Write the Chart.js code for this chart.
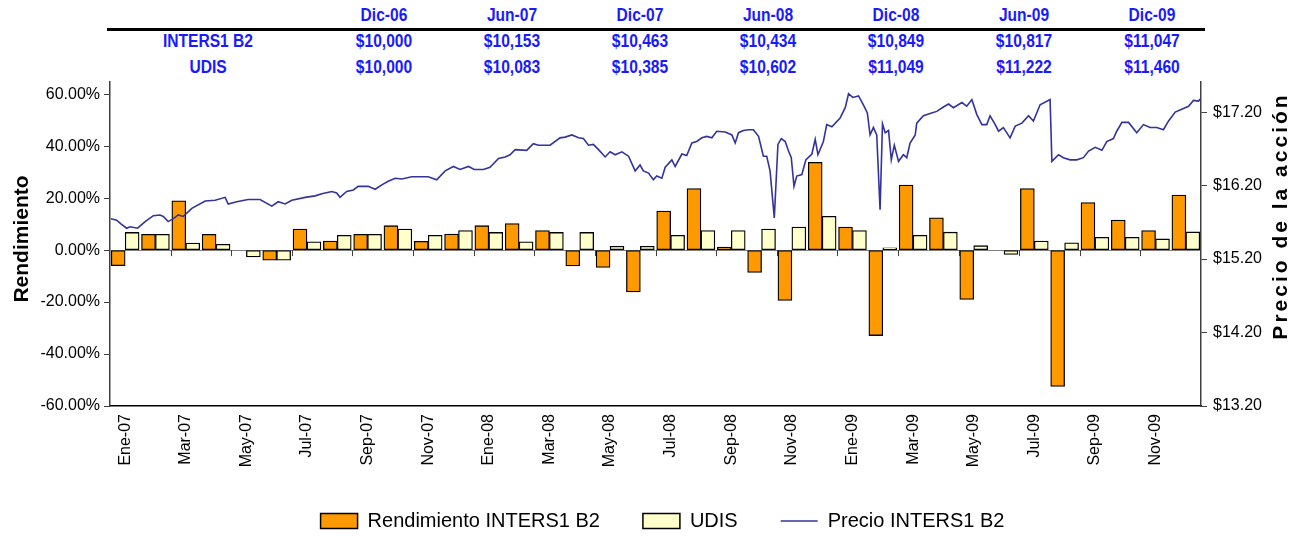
<!DOCTYPE html>
<html>
<head>
<meta charset="utf-8">
<script src="https://cdn.jsdelivr.net/npm/chart.js@4/dist/chart.umd.min.js"></script>
<style>
    body { margin: 0; width: 1301px; height: 537px; overflow: hidden; background: #fff; }
    #wrap { position: absolute; left: 0; top: 0; width: 1301px; height: 541px; }
    .cell { position: absolute; transform: translate(-50%, -50%) scaleX(0.82); white-space: nowrap;
            font: bold 19px 'Liberation Sans', Arial, sans-serif; color: #1a1aff; }
    #rule { position: absolute; left: 107px; top: 28px; width: 1098px; height: 3px; background: #000; }
</style>
</head>
<body>
<div id="table"></div>
<div id="rule"></div>
<div id="wrap"><canvas id="chart" width="1301" height="541"></canvas></div>
<script>
const months = ['Ene-07', 'Feb-07', 'Mar-07', 'Abr-07', 'May-07', 'Jun-07', 'Jul-07', 'Ago-07', 'Sep-07', 'Oct-07', 'Nov-07', 'Dic-07',
    'Ene-08', 'Feb-08', 'Mar-08', 'Abr-08', 'May-08', 'Jun-08', 'Jul-08', 'Ago-08', 'Sep-08', 'Oct-08', 'Nov-08', 'Dic-08',
    'Ene-09', 'Feb-09', 'Mar-09', 'Abr-09', 'May-09', 'Jun-09', 'Jul-09', 'Ago-09', 'Sep-09', 'Oct-09', 'Nov-09', 'Dic-09'];

// rendimientos mensuales (%)
const rendInters = [-6.0, 6.1, 19.0, 6.1, 0, -3.9, 8.1, 3.5, 6.1, 9.4, 3.4, 6.2,
    9.4, 10.2, 7.5, -6.1, -6.7, -16.1, 15.0, 23.7, 1.2, -8.6, -19.4, 33.8,
    8.9, -32.9, 25.0, 12.4, -19.0, 0, 23.7, -52.5, 18.3, 11.6, 7.5, 21.2];
const udis = [6.8, 6.1, 2.7, 2.2, -2.6, -3.9, 3.2, 5.7, 6.1, 8.1, 5.7, 7.5,
    6.8, 3.2, 6.8, 6.8, 1.5, 1.5, 5.7, 7.5, 7.5, 8.1, 8.9, 13.0,
    7.5, 0.9, 5.7, 6.9, 1.7, -1.7, 3.5, 2.8, 4.9, 4.9, 4.3, 7.0];

// precio diario (posicion en meses desde el inicio de Ene-07, precio)
const priceMonth = [0.03, 0.22, 0.36, 0.55, 0.66, 0.91, 1.16, 1.43, 1.65, 1.76,
    1.92, 2.09, 2.25, 2.42, 2.70, 3.14, 3.47, 3.80, 3.90, 4.18,
    4.56, 4.95, 5.34, 5.55, 5.78, 6.00, 6.44, 6.77, 6.99, 7.32,
    7.48, 7.59, 7.81, 8.03, 8.19, 8.52, 8.75, 8.97, 9.18, 9.41,
    9.63, 9.96, 10.50, 10.78, 11.06, 11.33, 11.55, 11.83, 12.02, 12.32,
    12.54, 12.82, 13.04, 13.20, 13.37, 13.75, 13.97, 14.14, 14.52, 14.85,
    15.02, 15.24, 15.46, 15.62, 15.79, 15.95, 16.12, 16.34, 16.50, 16.67,
    16.89, 17.11, 17.33, 17.49, 17.60, 17.77, 17.93, 18.04, 18.21, 18.32,
    18.54, 18.65, 18.87, 19.03, 19.20, 19.36, 19.53, 19.69, 19.86, 20.02,
    20.30, 20.52, 20.63, 20.74, 20.90, 21.07, 21.23, 21.40, 21.56, 21.67,
    21.78, 21.92, 22.04, 22.15, 22.28, 22.39, 22.48, 22.57, 22.66, 22.83,
    22.96, 23.16, 23.27, 23.36, 23.54, 23.65, 23.82, 24.09, 24.26, 24.37,
    24.51, 24.70, 24.86, 24.99, 25.08, 25.19, 25.30, 25.41, 25.49, 25.58,
    25.69, 25.78, 25.88, 26.02, 26.18, 26.29, 26.40, 26.57, 26.62, 26.84,
    27.06, 27.28, 27.50, 27.67, 27.83, 28.11, 28.27, 28.44, 28.60, 28.77,
    28.93, 29.04, 29.21, 29.32, 29.48, 29.70, 29.87, 30.09, 30.31, 30.47,
    30.69, 31.02, 31.08, 31.30, 31.46, 31.68, 31.90, 32.12, 32.29, 32.51,
    32.73, 32.89, 33.11, 33.22, 33.39, 33.61, 33.88, 34.10, 34.32, 34.54,
    34.76, 34.93, 35.15, 35.42, 35.59, 35.75, 35.92, 36.00];
const priceValue = [15.75, 15.73, 15.68, 15.62, 15.64, 15.62, 15.71, 15.79, 15.80, 15.78,
    15.71, 15.75, 15.80, 15.78, 15.89, 15.99, 16.00, 16.04, 15.95, 15.98,
    16.01, 16.01, 15.92, 15.98, 15.95, 16.00, 16.04, 16.06, 16.09, 16.12,
    16.10, 16.04, 16.12, 16.14, 16.19, 16.19, 16.15, 16.21, 16.26, 16.30,
    16.29, 16.32, 16.32, 16.28, 16.40, 16.46, 16.42, 16.46, 16.42, 16.42,
    16.45, 16.57, 16.59, 16.62, 16.69, 16.68, 16.77, 16.75, 16.75, 16.85,
    16.86, 16.89, 16.85, 16.84, 16.75, 16.76, 16.69, 16.59, 16.66, 16.62,
    16.66, 16.60, 16.40, 16.48, 16.40, 16.37, 16.28, 16.33, 16.30, 16.45,
    16.55, 16.46, 16.63, 16.61, 16.78, 16.80, 16.85, 16.87, 16.85, 16.94,
    16.93, 16.89, 16.78, 16.92, 16.95, 16.96, 16.96, 16.87, 16.60, 16.60,
    16.40, 15.76, 16.76, 16.84, 16.80, 16.67, 16.58, 16.19, 16.33, 16.35,
    16.55, 16.63, 16.83, 16.62, 16.80, 17.03, 17.00, 17.12, 17.26, 17.45,
    17.40, 17.42, 17.30, 17.19, 16.89, 16.99, 16.89, 15.87, 17.04, 16.92,
    16.95, 16.55, 16.75, 16.53, 16.62, 16.58, 16.78, 16.89, 17.05, 17.15,
    17.18, 17.21, 17.27, 17.31, 17.26, 17.33, 17.28, 17.37, 17.17, 17.03,
    17.03, 17.15, 17.03, 16.94, 16.99, 16.85, 17.01, 17.05, 17.15, 17.08,
    17.30, 17.37, 16.53, 16.62, 16.58, 16.55, 16.55, 16.58, 16.67, 16.72,
    16.68, 16.80, 16.84, 16.94, 17.06, 17.06, 16.92, 17.03, 16.99, 16.99,
    16.96, 17.08, 17.20, 17.25, 17.28, 17.36, 17.35, 17.39];

const leftTicks = [-60, -40, -20, 0, 20, 40, 60];
const rightTicks = [13.2, 14.2, 15.2, 16.2, 17.2];

// tabla superior
const tableCols = ['Dic-06', 'Jun-07', 'Dic-07', 'Jun-08', 'Dic-08', 'Jun-09', 'Dic-09'];
const tableInters = ['$10,000', '$10,153', '$10,463', '$10,434', '$10,849', '$10,817', '$11,047'];
const tableUdis = ['$10,000', '$10,083', '$10,385', '$10,602', '$11,049', '$11,222', '$11,460'];

const FONT = "'Liberation Sans', Arial, sans-serif";

function addCell(text, x, y) {
    const d = document.createElement('div');
    d.className = 'cell';
    d.textContent = text;
    d.style.left = x + 'px';
    d.style.top = y + 'px';
    document.getElementById('table').appendChild(d);
}
addCell('INTERS1 B2', 208, 41);
addCell('UDIS', 208, 67);
tableCols.forEach((c, i) => {
    const x = 384 + i * 128;
    addCell(c, x, 15);
    addCell(tableInters[i], x, 41);
    addCell(tableUdis[i], x, 67);
});

// marcas sobre la linea del cero, cada dos meses
const zeroTicks = {
    id: 'zeroTicks',
    beforeDatasetsDraw(chart) {
        const { ctx, scales: { x, y } } = chart;
        const y0 = y.getPixelForValue(0);
        ctx.save();
        ctx.strokeStyle = '#404040';
        ctx.lineWidth = 1;
        for (let i = 2; i < months.length; i += 2) {
            const px = Math.round(x.getPixelForValue(i - 0.5)) + 0.5;
            ctx.beginPath();
            ctx.moveTo(px, y0);
            ctx.lineTo(px, y0 + 6);
            ctx.stroke();
        }
        ctx.restore();
    }
};

// titulos de los ejes, leidos de abajo hacia arriba
function drawTitle(ctx, text, x, y, spacing) {
    ctx.save();
    ctx.translate(x, y);
    ctx.rotate(-Math.PI / 2);
    ctx.textAlign = 'center';
    ctx.textBaseline = 'middle';
    ctx.fillStyle = '#000';
    ctx.font = 'bold 21px ' + FONT;
    ctx.letterSpacing = spacing;
    ctx.fillText(text, 0, 0);
    ctx.restore();
}
const axisTitles = {
    id: 'axisTitles',
    afterDraw(chart) {
        drawTitle(chart.ctx, 'Rendimiento', 22, 239, '0px');
        drawTitle(chart.ctx, 'Precio de la acción', chart.scales.y1.right - 20, 216, '3px');
    }
};

// barras: una a cada lado del centro del mes
const barSet = (label, values, color, shift) => ({
    type: 'bar', label,
    data: values.map((v, i) => ({ x: i + shift, y: v })),
    backgroundColor: color, borderColor: '#000', borderWidth: 1.3, borderSkipped: false,
    grouped: false, categoryPercentage: 1, barPercentage: 1,
    xAxisID: 'x', yAxisID: 'y', order: 1
});

new Chart(document.getElementById('chart'), {
    data: {
        datasets: [
            barSet('Rendimiento INTERS1 B2', rendInters, '#ff9900', -0.23),
            barSet('UDIS', udis, '#ffffcc', 0.23),
            {
                type: 'line', label: 'Precio INTERS1 B2',
                data: priceMonth.map((m, i) => ({ x: m - 0.5, y: priceValue[i] })),
                borderColor: '#333399', borderWidth: 1.6, pointRadius: 0, tension: 0,
                xAxisID: 'x', yAxisID: 'y1', order: 0
            }
        ]
    },
    options: {
        responsive: false,
        animation: false,
        layout: { padding: { top: 82, left: 24, right: 0, bottom: 0 } },
        plugins: {
            tooltip: { enabled: false },
            legend: {
                position: 'bottom',
                labels: {
                    usePointStyle: true, pointStyleWidth: 37, boxHeight: 15, padding: 43,
                    color: '#000', font: { family: FONT, size: 20 },
                    sort: (a, b) => a.datasetIndex - b.datasetIndex,
                    generateLabels(chart) {
                        const items = Chart.defaults.plugins.legend.labels.generateLabels(chart);
                        items.forEach(it => {
                            if (it.datasetIndex === 2) {
                                it.pointStyle = 'line';
                                it.lineWidth = 1.6;
                                it.strokeStyle = '#333399';
                            } else {
                                it.pointStyle = 'rect';
                                it.lineWidth = 1.5;
                                it.strokeStyle = '#000';
                            }
                        });
                        return items;
                    }
                }
            }
        },
        scales: {
            x: {
                type: 'linear', min: -0.5, max: 35.5, offset: false,
                afterBuildTicks: s => { s.ticks = months.map((m, i) => ({ value: i })); },
                grid: { display: false },
                border: { display: true, color: '#000', width: 1.5 },
                ticks: {
                    autoSkip: false, minRotation: 90, maxRotation: 90, padding: 0, color: '#000',
                    font: { family: FONT, size: 16 },
                    callback: v => (v % 2 === 0 ? months[v] : '')
                },
                afterFit: s => { s.height = 62; }
            },
            y: {
                position: 'left', min: -60, max: 64.7,
                afterBuildTicks: s => { s.ticks = leftTicks.map(v => ({ value: v })); },
                grid: {
                    color: c => (c.tick && c.tick.value === 0 ? '#808080' : 'rgba(0,0,0,0)'),
                    tickColor: '#404040', tickLength: 6, lineWidth: 1
                },
                border: { color: '#404040', width: 1.5 },
                ticks: {
                    padding: 4, color: '#000', font: { family: FONT, size: 16 },
                    callback: v => v.toFixed(2) + '%'
                },
                afterFit: s => { s.width = 86; }
            },
            y1: {
                position: 'right', min: 13.2, max: 17.61,
                afterBuildTicks: s => { s.ticks = rightTicks.map(v => ({ value: v })); },
                grid: { drawOnChartArea: false, tickColor: '#404040', tickLength: 6 },
                border: { color: '#404040', width: 1.5 },
                ticks: {
                    padding: 6, color: '#000', font: { family: FONT, size: 16 },
                    callback: v => '$' + v.toFixed(2)
                },
                afterFit: s => { s.width = 100; }
            }
        }
    },
    plugins: [zeroTicks, axisTitles]
});
</script>
</body>
</html>
